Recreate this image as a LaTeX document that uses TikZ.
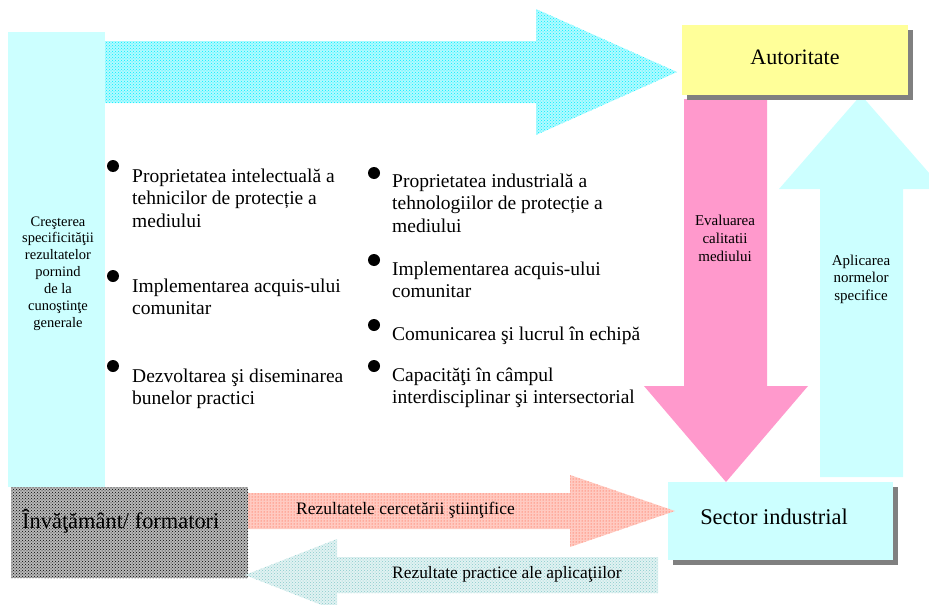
\documentclass[tikz,border=0pt]{standalone}
\usepackage{fontspec}
\setmainfont{Liberation Serif}
\usetikzlibrary{patterns,shadows}
\definecolor{colcyan}{HTML}{CCFFFF}
\definecolor{autoyellow}{HTML}{FFFF99}
\definecolor{evalpink}{HTML}{FF99CC}
\definecolor{shadowgray}{HTML}{808080}
\definecolor{dotcyan}{HTML}{00F0FF}
\definecolor{dotred}{HTML}{FF4020}
\definecolor{dotteal}{HTML}{88CCCC}
\begin{document}
\begin{tikzpicture}[x=1pt,y=-1pt,
  bullet/.style={circle,fill=black,inner sep=0pt,minimum size=12pt},
  item/.style={anchor=base west,align=left,inner sep=0pt,font=\fontsize{19.5}{22.5}\selectfont},
  boxed/.style={inner sep=0pt,drop shadow={shadow xshift=5pt,shadow yshift=-5pt,fill=shadowgray,opacity=1}},
  toparrow/.style={preaction={fill=dotcyan!30},pattern=crosshatch dots,pattern color=dotcyan},
  redarrow/.style={preaction={fill=dotred!28},pattern=dots,pattern color=dotred},
  backarrow/.style={preaction={fill=dotteal!25},pattern=crosshatch dots,pattern color=dotteal},
  graybox/.style={preaction={fill=black!28},pattern=crosshatch dots,pattern color=black}]
\useasboundingbox (0,0) rectangle (929,605);
\fill[toparrow] (105,41) -- (536,41) -- (536,9) -- (677,72) -- (536,135) -- (536,103) -- (105,103) -- cycle;
\node[fill=colcyan,inner sep=0pt,minimum width=97pt,minimum height=455pt] (stanga) at (56.5,259.5) {};
\node[anchor=base,align=center,inner sep=0pt,font=\fontsize{14.5}{16.9}\selectfont] (crestere) at (58,327.4)
  {Creşterea\\specificităţii\\rezultatelor\\pornind\\de la\\cunoştinţe\\generale};
\fill[evalpink] (684,99) -- (767,99) -- (767,386) -- (808,386) -- (726,482) -- (644,386) -- (684,386) -- cycle;
\fill[colcyan] (820,477) -- (903,477) -- (903,189) -- (943,189) -- (861,95) -- (779,189) -- (820,189) -- cycle;
\node[anchor=base,align=center,inner sep=0pt,font=\fontsize{15}{18}\selectfont] (evaluare) at (725,261)
  {Evaluarea\\calitatii\\mediului};
\node[anchor=base,align=center,inner sep=0pt,font=\fontsize{15}{17.5}\selectfont] (aplicare) at (861,300)
  {Aplicarea\\normelor\\specifice};
\node[boxed,fill=autoyellow,minimum width=226pt,minimum height=70pt] (autoritate) at (795,60) {};
\node[anchor=base,inner sep=0pt,font=\fontsize{22}{26}\selectfont] at (795,64) {Autoritate};
\node[boxed,fill=colcyan,minimum width=225pt,minimum height=78pt] (sector) at (780.5,521) {};
\node[anchor=base,inner sep=0pt,font=\fontsize{22.4}{26}\selectfont] at (774,524) {Sector industrial};
\fill[graybox] (11,487) rectangle (248,578);
\node[anchor=base west,inner sep=0pt,font=\fontsize{22.4}{26}\selectfont] (invatamant) at (22,528) {Învăţământ/ formatori};
\fill[redarrow] (248,493) -- (570,493) -- (570,475) -- (675,511) -- (570,547) -- (570,529) -- (248,529) -- cycle;
\node[anchor=base west,inner sep=0pt,font=\fontsize{17.5}{20}\selectfont] (cercetare) at (296,514) {Rezultatele cercetării ştiinţifice};
\fill[backarrow] (658,557) -- (337,557) -- (337,539) -- (245,575) -- (337,611) -- (337,593) -- (658,593) -- cycle;
\node[anchor=base west,inner sep=0pt,font=\fontsize{17.4}{20}\selectfont] (practice) at (392,578) {Rezultate practice ale aplicaţiilor};
\node[bullet] (b1) at (113,166) {};
\node[item] (t1) at (132,227) {Proprietatea intelectuală a\\tehnicilor de protecție a\\mediului};
\node[bullet] (b2) at (113,276) {};
\node[item] (t2) at (132,314.5) {Implementarea acquis-ului\\comunitar};
\node[bullet] (b3) at (113,366) {};
\node[item] (t3) at (132,404.5) {Dezvoltarea şi diseminarea\\bunelor practici};
\node[bullet] (b4) at (374,173) {};
\node[item] (t4) at (392,232) {Proprietatea industrială a\\tehnologiilor de protecție a\\mediului};
\node[bullet] (b5) at (374,260) {};
\node[item] (t5) at (392,297.5) {Implementarea acquis-ului\\comunitar};
\node[bullet] (b6) at (374,325) {};
\node[item] (t6) at (392,340) {Comunicarea şi lucrul în echipă};
\node[bullet] (b7) at (374,366) {};
\node[item] (t7) at (392,403.5) {Capacităţi în câmpul\\interdisciplinar şi intersectorial};
\end{tikzpicture}
\end{document}
